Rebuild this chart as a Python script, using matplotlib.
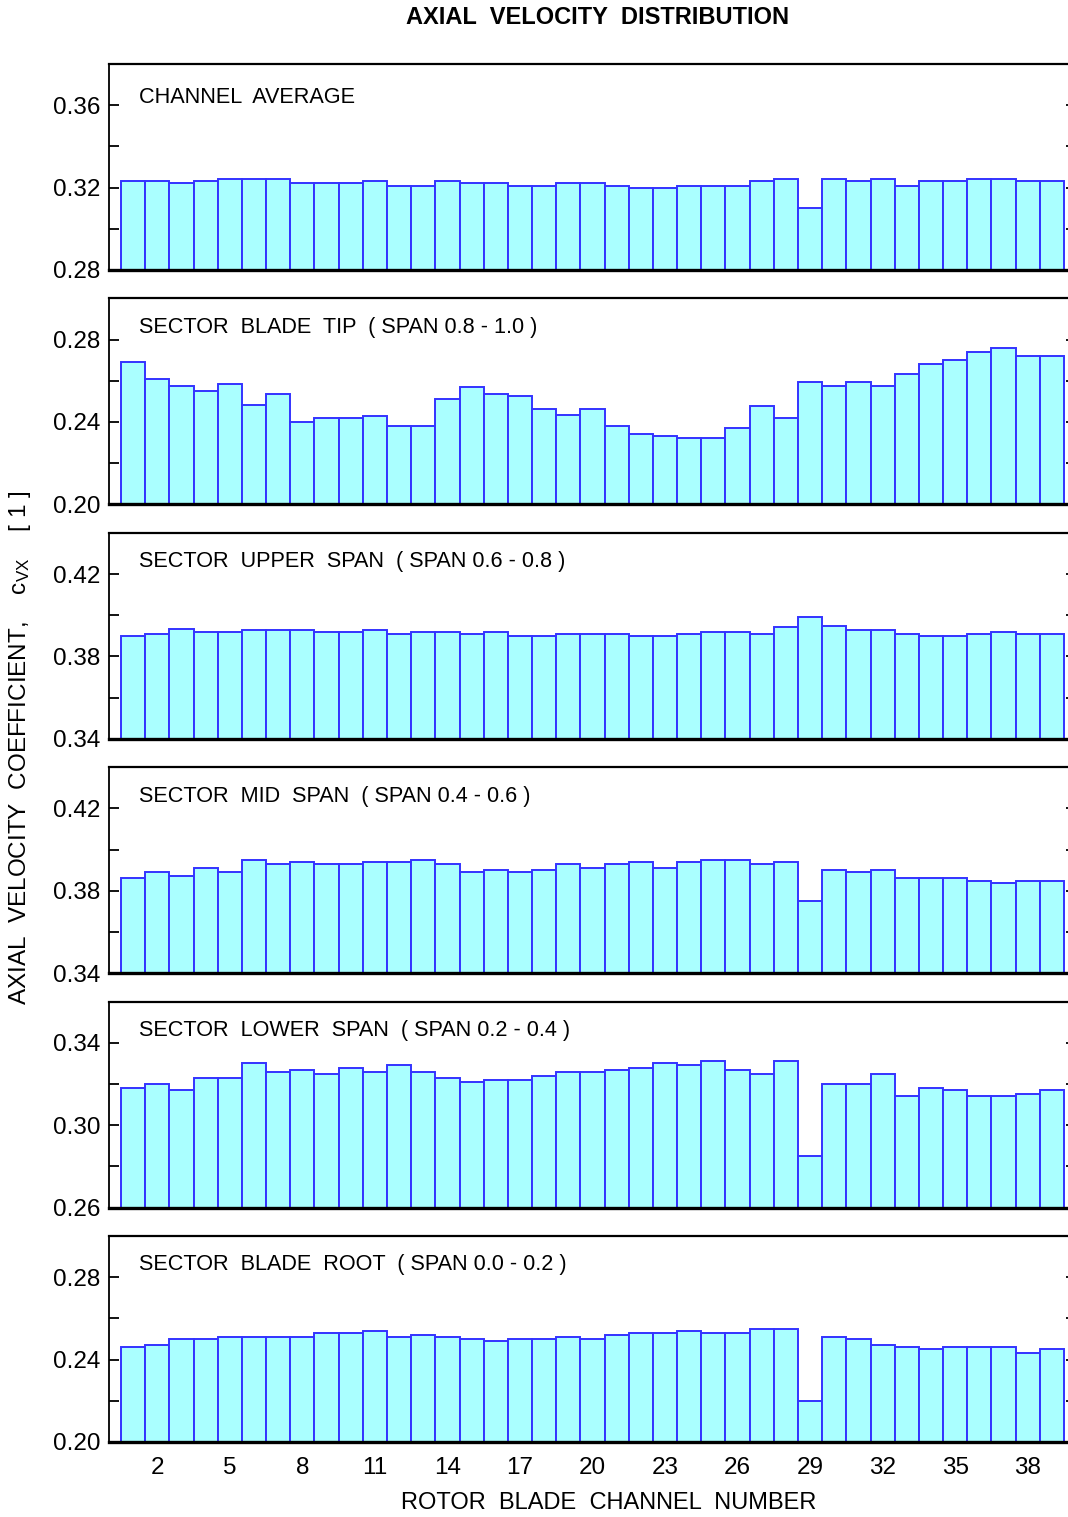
import numpy as np
import matplotlib
matplotlib.use("Agg")
from matplotlib import pyplot as plt

plt.rcParams['font.family'] = ['Liberation Sans', 'DejaVu Sans']
plt.rcParams['mathtext.fontset'] = 'custom'
plt.rcParams['mathtext.rm'] = 'Liberation Sans'
plt.rcParams['mathtext.it'] = 'Liberation Sans'

channels = np.arange(1, 40)
xtick_values = [2, 5, 8, 11, 14, 17, 20, 23, 26, 29, 32, 35, 38]

panel_titles = [
    "CHANNEL  AVERAGE",
    "SECTOR  BLADE  TIP  ( SPAN 0.8 - 1.0 )",
    "SECTOR  UPPER  SPAN  ( SPAN 0.6 - 0.8 )",
    "SECTOR  MID  SPAN  ( SPAN 0.4 - 0.6 )",
    "SECTOR  LOWER  SPAN  ( SPAN 0.2 - 0.4 )",
    "SECTOR  BLADE  ROOT  ( SPAN 0.0 - 0.2 )",
]
panel_ymin = [0.28, 0.20, 0.34, 0.34, 0.26, 0.20]

channel_average = [
    0.323, 0.323, 0.322, 0.323, 0.324, 0.324, 0.324, 0.322, 0.322, 0.322,
    0.323, 0.321, 0.321, 0.323, 0.322, 0.322, 0.321, 0.321, 0.322, 0.322,
    0.321, 0.320, 0.320, 0.321, 0.321, 0.321, 0.323, 0.324, 0.310, 0.324,
    0.323, 0.324, 0.321, 0.323, 0.323, 0.324, 0.324, 0.323, 0.323]
blade_tip = [
    0.269, 0.261, 0.2575, 0.2552, 0.2584, 0.2484, 0.2535, 0.240, 0.242, 0.242,
    0.243, 0.238, 0.238, 0.251, 0.257, 0.2535, 0.2525, 0.2465, 0.2435, 0.2465,
    0.238, 0.234, 0.233, 0.232, 0.232, 0.237, 0.248, 0.242, 0.2595, 0.2575,
    0.2595, 0.2575, 0.2635, 0.268, 0.270, 0.274, 0.276, 0.272, 0.272]
upper_span = [
    0.390, 0.391, 0.3934, 0.392, 0.392, 0.393, 0.393, 0.393, 0.392, 0.392,
    0.393, 0.391, 0.392, 0.392, 0.391, 0.392, 0.390, 0.390, 0.391, 0.391,
    0.391, 0.390, 0.390, 0.391, 0.392, 0.392, 0.391, 0.3943, 0.3992, 0.395,
    0.393, 0.393, 0.391, 0.390, 0.390, 0.391, 0.392, 0.391, 0.391]
mid_span = [
    0.386, 0.389, 0.387, 0.391, 0.389, 0.395, 0.393, 0.394, 0.393, 0.393,
    0.394, 0.394, 0.395, 0.393, 0.389, 0.390, 0.389, 0.390, 0.393, 0.391,
    0.393, 0.394, 0.391, 0.394, 0.395, 0.395, 0.393, 0.394, 0.375, 0.390,
    0.389, 0.390, 0.386, 0.386, 0.386, 0.385, 0.384, 0.385, 0.385]
lower_span = [
    0.318, 0.320, 0.317, 0.323, 0.323, 0.330, 0.326, 0.327, 0.325, 0.328,
    0.326, 0.329, 0.326, 0.323, 0.321, 0.322, 0.322, 0.324, 0.326, 0.326,
    0.327, 0.328, 0.330, 0.329, 0.331, 0.327, 0.325, 0.331, 0.285, 0.320,
    0.320, 0.325, 0.314, 0.318, 0.317, 0.314, 0.314, 0.315, 0.317]
blade_root = [
    0.246, 0.247, 0.250, 0.250, 0.251, 0.251, 0.251, 0.251, 0.253, 0.253,
    0.254, 0.251, 0.252, 0.251, 0.250, 0.249, 0.250, 0.250, 0.251, 0.250,
    0.252, 0.253, 0.253, 0.254, 0.253, 0.253, 0.255, 0.255, 0.220, 0.251,
    0.250, 0.247, 0.246, 0.245, 0.246, 0.246, 0.246, 0.243, 0.245]

series = [channel_average, blade_tip, upper_span, mid_span, lower_span, blade_root]

W, H = 1068, 1517
fig = plt.figure(figsize=(W / 100, H / 100), dpi=100)

left_px, right_px = 109, 1076
top0, step, height = 64, 234.4, 206

for i, (vals, title, ymin) in enumerate(zip(series, panel_titles, panel_ymin)):
    top = top0 + step * i
    ax = fig.add_axes([left_px / W, 1 - (top + height) / H,
                       (right_px - left_px) / W, height / H])
    ax.bar(channels, vals, width=1.0, bottom=ymin,
           color='#aaffff', edgecolor='#3333ff', linewidth=1.4)
    # bars are drawn from the panel floor
    for p, v in zip(ax.patches, vals):
        p.set_height(v - ymin)
    ax.set_xlim(0, 40)
    ax.set_ylim(ymin, ymin + 0.1)
    yt = ymin + np.arange(0, 0.1001, 0.02)
    ax.set_yticks(np.round(yt, 2))
    ax.set_yticklabels(['%.2f' % t if k % 2 == 0 and k < 5 else ''
                        for k, t in enumerate(yt)])
    ax.tick_params(axis='y', direction='in', length=7, width=1.3,
                   left=True, right=True, labelsize=17.5, pad=6)
    ax.set_xticks(xtick_values)
    if i == len(series) - 1:
        ax.tick_params(axis='x', length=0, labelsize=17.5, pad=11)
    else:
        ax.tick_params(axis='x', length=0, labelbottom=False)
    ax.spines['top'].set_linewidth(1.6)
    ax.spines['left'].set_linewidth(1.3)
    ax.spines['bottom'].set_linewidth(2.4)
    ax.spines['right'].set_linewidth(1.3)
    ty = 0.835 if i == 0 else 0.86
    ax.text(30 / (right_px - left_px), ty, title, transform=ax.transAxes,
            fontsize=15.6, va='center', ha='left')

fig.text(598 / W, 1 - 18 / H, "AXIAL  VELOCITY  DISTRIBUTION",
         fontsize=17, fontweight='bold', ha='center', va='center')
fig.text(609 / W, 1 - 1503 / H, "ROTOR  BLADE  CHANNEL  NUMBER",
         fontsize=17, ha='center', va='center')
fig.text(20 / W, 1 - 748 / H,
         r"AXIAL  VELOCITY  COEFFICIENT,    c$_{\mathrm{VX}}$    [ 1 ]",
         fontsize=17.5, rotation=90, ha='center', va='center')

fig.savefig('out.png', dpi=100)
